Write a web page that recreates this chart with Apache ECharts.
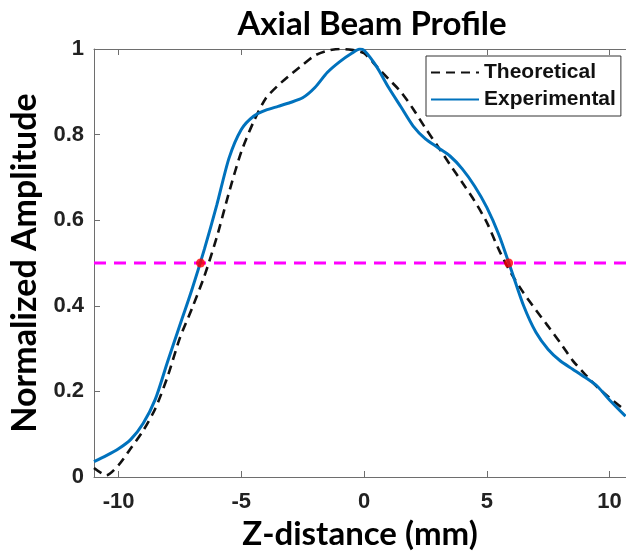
<!DOCTYPE html>
<html><head><meta charset="utf-8">
<script src="https://cdn.jsdelivr.net/npm/echarts@6/dist/echarts.min.js"></script>
<style>html,body{margin:0;padding:0;background:#fff}#c{width:626px;height:556px}</style>
</head><body><div id="c"></div>
<script>
const titleText = 'Axial Beam Profile';
const xTitle = 'Z-distance (mm)';
const yTitle = 'Normalized Amplitude';
const xTicks = [-10, -5, 0, 5, 10];
const yTicks = [0, 0.2, 0.4, 0.6, 0.8, 1];
const expX = [-11, -10.5, -10, -9.5, -9, -8.5, -8, -7.5, -7, -6.5, -6, -5.5, -5, -4.5, -4, -3.5, -3, -2.5, -2, -1.5, -1, -0.5, -0.17, 0, 0.5, 1, 1.5, 2, 2.5, 3, 3.5, 4, 4.5, 5, 5.5, 6, 6.5, 7, 7.5, 8, 8.5, 9, 9.5, 10, 10.65];
const expY = [0.036, 0.050, 0.066, 0.088, 0.125, 0.182, 0.27, 0.355, 0.44, 0.533, 0.635, 0.745, 0.812, 0.843, 0.857, 0.866, 0.875, 0.886, 0.91, 0.945, 0.97, 0.99, 1.0, 0.997, 0.96, 0.91, 0.865, 0.82, 0.79, 0.77, 0.75, 0.72, 0.68, 0.63, 0.565, 0.483, 0.40, 0.338, 0.298, 0.271, 0.252, 0.233, 0.212, 0.18, 0.142];
const theoX = [-11, -10.5, -10, -9.5, -9, -8.5, -8, -7.5, -7, -6.5, -6, -5.5, -5, -4.5, -4, -3.5, -3, -2.5, -2, -1.5, -1, -0.5, 0, 0.5, 1, 1.5, 2, 2.5, 3, 3.5, 4, 4.5, 5, 5.5, 6, 6.5, 7, 7.5, 8, 8.5, 9, 9.5, 10, 10.65];
const theoY = [0.021, 0.004, 0.028, 0.067, 0.108, 0.16, 0.235, 0.325, 0.395, 0.47, 0.56, 0.665, 0.76, 0.83, 0.885, 0.915, 0.94, 0.963, 0.985, 0.996, 1.0, 0.998, 0.99, 0.96, 0.93, 0.9, 0.86, 0.815, 0.773, 0.73, 0.688, 0.645, 0.595, 0.53, 0.475, 0.43, 0.39, 0.352, 0.313, 0.272, 0.24, 0.21, 0.185, 0.155];
const halfLevel = [0.5, 0.5];
const halfX = [-11, 10.7];
const crossX = [-6.66, 5.89];
const crossY = [0.5, 0.5];

const zip = (a, b) => a.map((v, i) => [v, b[i]]);
const axisGray = '#6e6e6e';
const tickFont = {fontFamily: 'Liberation Sans', fontWeight: 'bold', fontSize: 22, color: '#222'};
const titleFont = {fontFamily: 'Lato', fontWeight: 'bold', fontSize: 33, color: '#000'};

const chart = echarts.init(document.getElementById('c'), null, {renderer: 'canvas'});
chart.setOption({
  animation: false,
  backgroundColor: '#fff',
  title: {text: titleText, left: 367, top: 3, textAlign: 'center', textStyle: titleFont},
  grid: {left: 93, right: 0, top: 49, bottom: 79},
  legend: {
    left: 426, top: 56, orient: 'vertical', padding: [6, 5, 6, 4], itemGap: 6,
    itemWidth: 48, itemHeight: 14, borderColor: '#333', borderWidth: 1, backgroundColor: '#fff',
    itemStyle: {opacity: 0},
    textStyle: {fontFamily: 'Liberation Sans', fontWeight: 'bold', fontSize: 21, color: '#111'},
    data: ['Theoretical', 'Experimental']
  },
  xAxis: [{
    type: 'value', min: -11, max: 10.67, position: 'bottom',
    name: xTitle, nameLocation: 'middle', nameGap: 40, nameTextStyle: titleFont,
    axisLine: {show: true, onZero: false, lineStyle: {color: axisGray, width: 1}},
    axisTick: {show: true, inside: true, length: 6, customValues: xTicks, lineStyle: {color: axisGray}},
    axisLabel: Object.assign({margin: 14, customValues: xTicks}, tickFont),
    splitLine: {show: false}
  }, {
    type: 'value', min: -11, max: 10.67, position: 'top',
    axisLine: {show: true, onZero: false, lineStyle: {color: axisGray, width: 1}},
    axisTick: {show: true, inside: true, length: 6, customValues: xTicks, lineStyle: {color: axisGray}},
    axisLabel: {show: false}, splitLine: {show: false}
  }],
  yAxis: {
    type: 'value', min: 0, max: 1,
    name: yTitle, nameLocation: 'middle', nameGap: 52, nameRotate: 90,
    nameTextStyle: Object.assign({}, titleFont, {fontSize: 34}),
    axisLine: {show: true, onZero: false, lineStyle: {color: axisGray, width: 1}},
    axisTick: {show: true, inside: true, length: 6, customValues: yTicks, lineStyle: {color: axisGray}},
    axisLabel: Object.assign({margin: 10, customValues: yTicks, formatter: v => String(+(+v).toFixed(1))}, tickFont),
    splitLine: {show: false}
  },
  series: [
    {name: 'Half', type: 'line', data: zip(halfX, halfLevel), symbol: 'none', silent: true,
      lineStyle: {color: '#FF00FF', width: 3, type: [12, 8]}, z: 1},
    {name: 'Theoretical', type: 'line', data: zip(theoX, theoY), symbol: 'none', smooth: 0.25,
      lineStyle: {color: '#111', width: 2.6, type: [9, 6]}, itemStyle: {color: '#111'}, z: 2},
    {name: 'Experimental', type: 'line', data: zip(expX, expY), symbol: 'none', smooth: 0.25,
      lineStyle: {color: '#0072BD', width: 3}, itemStyle: {color: '#0072BD'}, z: 3},
    {name: 'Cross', type: 'scatter', data: zip(crossX, crossY), symbolSize: 9,
      itemStyle: {color: '#FF0000'}, z: 4}
  ]
});
</script></body></html>
